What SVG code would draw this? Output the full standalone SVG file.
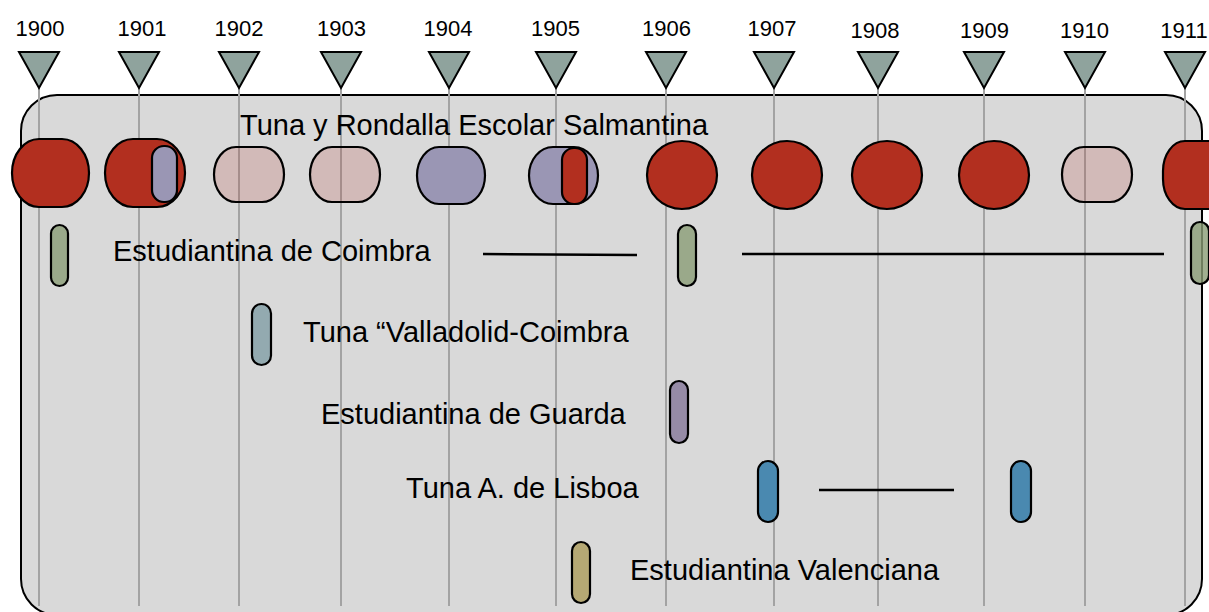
<svg xmlns="http://www.w3.org/2000/svg" width="1209" height="612" viewBox="0 0 1209 612">
<style>
text{font-family:"Liberation Sans",Arial,sans-serif;fill:#000}
.yr{font-size:22px;text-anchor:middle}
.lbl{font-size:29px}
.grid{stroke:#a3a3a3;stroke-width:2}
.tri{fill:#8fa39d;stroke:#000;stroke-width:2;stroke-linejoin:miter}
.s{stroke:#000;stroke-width:2.2}
.red{fill:#b22f1f}
.pink{fill:#b22f1f;fill-opacity:0.18}
.pur{fill:#9a96b4}
.grn{fill:#8a9c76;fill-opacity:0.8}
.cn{stroke:#000;stroke-width:2.5;fill:none}
</style>
<rect id="frame" x="21" y="95" width="1181" height="520" rx="36" fill="#d9d9d9" stroke="#000" stroke-width="2"/>
<g id="gridlines">
<line class="grid" x1="39" y1="88" x2="39" y2="606"/>
<line class="grid" x1="139" y1="88" x2="139" y2="606"/>
<line class="grid" x1="239" y1="88" x2="239" y2="606"/>
<line class="grid" x1="341" y1="88" x2="341" y2="606"/>
<line class="grid" x1="449" y1="88" x2="449" y2="606"/>
<line class="grid" x1="556" y1="88" x2="556" y2="606"/>
<line class="grid" x1="666" y1="88" x2="666" y2="606"/>
<line class="grid" x1="774" y1="88" x2="774" y2="606"/>
<line class="grid" x1="878" y1="88" x2="878" y2="606"/>
<line class="grid" x1="984" y1="88" x2="984" y2="606"/>
<line class="grid" x1="1085" y1="88" x2="1085" y2="606"/>
<line class="grid" x1="1185" y1="88" x2="1185" y2="606"/>
</g>
<g id="years">
<g id="y1900"><polygon class="tri" points="19,52 59,52 39,88"/><text class="yr" x="40" y="36">1900</text></g>
<g id="y1901"><polygon class="tri" points="119,52 159,52 139,88"/><text class="yr" x="142" y="36">1901</text></g>
<g id="y1902"><polygon class="tri" points="219,52 259,52 239,88"/><text class="yr" x="239" y="36">1902</text></g>
<g id="y1903"><polygon class="tri" points="321,52 361,52 341,88"/><text class="yr" x="341.5" y="36">1903</text></g>
<g id="y1904"><polygon class="tri" points="429,52 469,52 449,88"/><text class="yr" x="448" y="36">1904</text></g>
<g id="y1905"><polygon class="tri" points="536,52 576,52 556,88"/><text class="yr" x="555.5" y="36">1905</text></g>
<g id="y1906"><polygon class="tri" points="646,52 686,52 666,88"/><text class="yr" x="666.5" y="36">1906</text></g>
<g id="y1907"><polygon class="tri" points="754,52 794,52 774,88"/><text class="yr" x="772" y="36">1907</text></g>
<g id="y1908"><polygon class="tri" points="858,52 898,52 878,88"/><text class="yr" x="875" y="38">1908</text></g>
<g id="y1909"><polygon class="tri" points="964,52 1004,52 984,88"/><text class="yr" x="984.5" y="38">1909</text></g>
<g id="y1910"><polygon class="tri" points="1065,52 1105,52 1085,88"/><text class="yr" x="1084.5" y="38">1910</text></g>
<g id="y1911"><polygon class="tri" points="1165,52 1205,52 1185,88"/><text class="yr" x="1184" y="38">1911</text></g>
</g>
<g id="salmantina">
<text class="lbl" x="240" y="135">Tuna y Rondalla Escolar Salmantina</text>
<rect class="s red" x="12" y="139" width="77" height="68" rx="27" ry="34"/>
<rect class="s red" x="105" y="139" width="80" height="68" rx="28" ry="34"/>
<rect class="s pur" x="152" y="146" width="25" height="56" rx="12"/>
<rect class="s pink" x="214" y="147" width="70" height="55" rx="22" ry="27.5"/>
<rect class="s pink" x="310" y="147" width="70" height="55" rx="22" ry="27.5"/>
<rect class="s pur" x="417" y="147" width="68" height="57" rx="22" ry="28.5"/>
<rect class="s pur" x="529" y="147" width="69" height="57" rx="24" ry="28.5"/>
<rect class="s red" x="562" y="148" width="25" height="56" rx="12"/>
<ellipse class="s red" cx="682" cy="175" rx="35" ry="34"/>
<ellipse class="s red" cx="787" cy="175" rx="35" ry="34"/>
<ellipse class="s red" cx="887" cy="175" rx="35" ry="34"/>
<ellipse class="s red" cx="994" cy="175" rx="35" ry="34"/>
<rect class="s pink" x="1062" y="147" width="70" height="55" rx="22" ry="27.5"/>
<rect class="s red" x="1163" y="141" width="72" height="68" rx="22" ry="30"/>
</g>
<g id="coimbra">
<text class="lbl" x="113" y="261">Estudiantina de Coimbra</text>
<rect class="s grn" x="51" y="225" width="17" height="61" rx="8.5"/>
<rect class="s grn" x="678" y="225" width="18" height="61" rx="9"/>
<rect class="s grn" x="1191" y="222" width="18" height="62" rx="9"/>
</g>
<g id="valladolid">
<text class="lbl" x="303" y="342">Tuna “Valladolid-Coimbra</text>
<rect class="s" fill="#93aab0" x="252" y="304" width="19" height="61" rx="9.5"/>
</g>
<g id="guarda">
<text class="lbl" x="321" y="424">Estudiantina de Guarda</text>
<rect class="s" fill="#968ba6" x="670" y="381" width="18" height="62" rx="9"/>
</g>
<g id="lisboa">
<text class="lbl" x="406" y="498">Tuna A. de Lisboa</text>
<rect class="s" fill="#4a89b0" x="758" y="461" width="20" height="61" rx="10"/>
<rect class="s" fill="#4a89b0" x="1011" y="461" width="20" height="61" rx="10"/>
</g>
<g id="valenciana">
<text class="lbl" x="630" y="580">Estudiantina Valenciana</text>
<rect class="s" fill="#b5a874" x="572" y="542" width="18" height="61" rx="9"/>
</g>
<g id="connectors">
<line class="cn" x1="483" y1="254" x2="637" y2="255"/>
<line class="cn" x1="742" y1="254" x2="1164" y2="254"/>
<line class="cn" x1="819" y1="490" x2="954" y2="490"/>
</g>
</svg>
